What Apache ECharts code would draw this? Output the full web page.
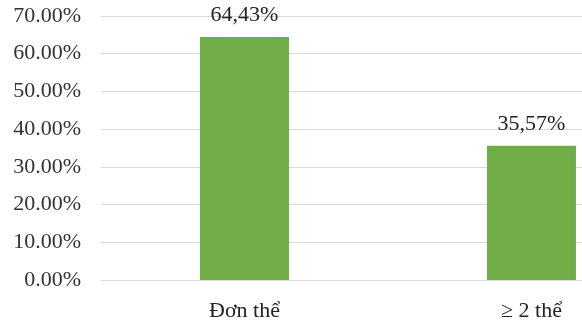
<!DOCTYPE html>
<html>
<head>
<meta charset="utf-8">
<script src="https://cdn.jsdelivr.net/npm/echarts@6/dist/echarts.min.js"></script>
<style>
  html, body { margin: 0; padding: 0; background: #fff; }
  #main { width: 582px; height: 324px; }
</style>
</head>
<body>
<div id="main"></div>
<script>
  // data
  var categories = ['Đơn thể', '≥ 2 thể'];
  var shares = [64.43, 35.57];

  var chart = echarts.init(document.getElementById('main'));
  var font = '"Liberation Serif", "Times New Roman", serif';

  chart.setOption({
    animation: false,
    grid: {
      left: 101,
      top: 16,
      right: -93,
      height: 264,
      outerBoundsMode: 'none'
    },
    xAxis: {
      type: 'category',
      data: categories,
      axisLine: { show: false },
      axisTick: { show: false },
      axisLabel: {
        color: '#222',
        fontFamily: font,
        fontSize: 22,
        margin: 20
      }
    },
    yAxis: {
      type: 'value',
      min: 0,
      max: 70,
      interval: 10,
      axisLine: { show: false },
      axisTick: { show: false },
      splitLine: { lineStyle: { color: '#d9d9d9', width: 1 } },
      axisLabel: {
        color: '#333',
        fontFamily: font,
        fontSize: 22,
        margin: 20,
        formatter: function (v) { return v.toFixed(2) + '%'; }
      }
    },
    series: [{
      type: 'bar',
      data: shares,
      barWidth: '31%',
      itemStyle: { color: '#70ad47' },
      label: {
        show: true,
        position: 'top',
        distance: 11,
        color: '#222',
        fontFamily: font,
        fontSize: 22,
        formatter: function (p) { return p.value.toFixed(2).replace('.', ',') + '%'; }
      }
    }]
  });
</script>
</body>
</html>
